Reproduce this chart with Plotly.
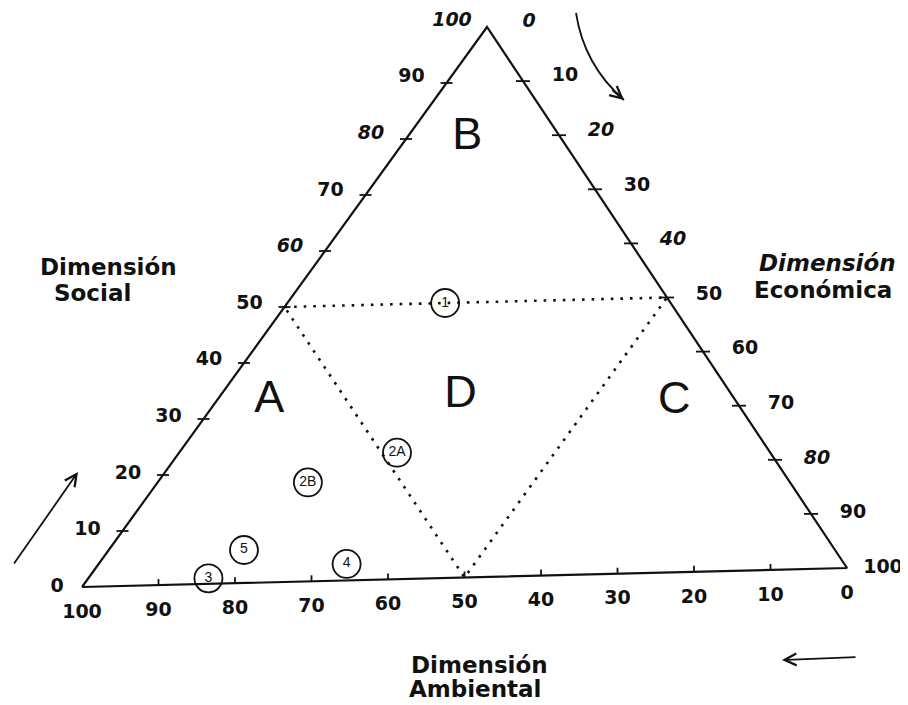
import plotly.graph_objects as go

# ---------------- data ----------------
tick_values = [0, 10, 20, 30, 40, 50, 60, 70, 80, 90, 100]
social_tick_labels = ["0", "10", "20", "30", "40", "50", "60", "70", "80", "90", "100"]
economic_tick_labels = ["0", "10", "20", "30", "40", "50", "60", "70", "80", "90", "100"]
ambiental_tick_labels = ["0", "10", "20", "30", "40", "50", "60", "70", "80", "90", "100"]
social_italic = [False, False, False, False, False, False, True, False, True, False, True]
economic_italic = [True, False, True, False, True, False, False, False, True, False, False]

point_ids = ["1", "2A", "2B", "3", "4", "5"]
point_social = [50, 23, 18, 1, 3, 6]
point_economic = [21, 29, 20, 16, 33, 18]
point_ambiental = [29, 48, 62, 83, 64, 76]

region_names = ["A", "B", "C", "D"]
region_social = [33, 80, 31, 33]
region_economic = [7, 8, 61, 32]
region_ambiental = [60, 12, 8, 35]

# inner (dotted) triangle joining the 50 % points
zone_social = [50, 50, 0, 50]
zone_economic = [0, 50, 50, 0]
zone_ambiental = [50, 0, 50, 50]

# ---------------- geometry (style) ----------------
V_AMB = (82.0, 587.0)    # Ambiental = 100 (bottom left)
V_SOC = (487.0, 27.0)    # Social = 100 (top)
V_ECO = (847.0, 568.0)   # Económica = 100 (bottom right)
PAGE_OFFSET = 8          # default page margin around the figure


def to_xy(s, e, a):
    t = s + e + a
    x = (a * V_AMB[0] + s * V_SOC[0] + e * V_ECO[0]) / t
    y = (a * V_AMB[1] + s * V_SOC[1] + e * V_ECO[1]) / t
    return x, y


def lab(txt, it):
    return "<i>" + txt + "</i>" if it else txt


BLACK = "#111111"
fig = go.Figure()

# triangle outline
edge = [to_xy(0, 0, 100), to_xy(100, 0, 0), to_xy(0, 100, 0), to_xy(0, 0, 100)]
fig.add_trace(go.Scatter(x=[p[0] for p in edge], y=[p[1] for p in edge], mode="lines",
                         line=dict(color=BLACK, width=2.2), hoverinfo="skip"))

# dotted inner triangle
zx, zy = [], []
for s, e, a in zip(zone_social, zone_economic, zone_ambiental):
    x, y = to_xy(s, e, a)
    zx.append(x)
    zy.append(y)
fig.add_trace(go.Scatter(x=zx, y=zy, mode="lines",
                         line=dict(color=BLACK, width=2.6, dash="2.6px,7px"), hoverinfo="skip"))

# tick marks
tx, ty = [], []
for v in tick_values[1:-1]:
    x, y = to_xy(v, 0, 100 - v)          # social (left edge)
    tx += [x - 6, x + 6, None]
    ty += [y, y, None]
    x, y = to_xy(100 - v, v, 0)          # economic (right edge)
    tx += [x - 7, x + 7, None]
    ty += [y, y, None]
    x, y = to_xy(0, 100 - v, v)          # ambiental (bottom edge)
    tx += [x, x, None]
    ty += [y, y - 6, None]
fig.add_trace(go.Scatter(x=tx, y=ty, mode="lines", line=dict(color=BLACK, width=1.8),
                         hoverinfo="skip"))

# tick labels
tick_font = dict(family="DejaVu Sans", size=19, color=BLACK, weight="bold")
lx, ly, lt = [], [], []
for v, t, it in zip(tick_values, social_tick_labels, social_italic):
    x, y = to_xy(v, 0, 100 - v)
    lx.append(x - 35 + (10 if v == 0 else 0))
    ly.append(y - 0.06 * v)
    lt.append(lab(t, it))
for v, t, it in zip(tick_values, economic_tick_labels, economic_italic):
    x, y = to_xy(100 - v, v, 0)
    lx.append(x + (36 if v == 100 else 42))
    ly.append(y - 0.05 * (100 - v))
    lt.append(lab(t, it))
for v, t in zip(tick_values, ambiental_tick_labels):
    x, y = to_xy(0, 100 - v, v)
    lx.append(x)
    ly.append(y + 26)
    lt.append(t)
fig.add_trace(go.Scatter(x=lx, y=ly, mode="text", text=lt, textposition="middle center",
                         textfont=tick_font, cliponaxis=False, hoverinfo="skip"))

# region letters
rx, ry = [], []
for s, e, a in zip(region_social, region_economic, region_ambiental):
    x, y = to_xy(s, e, a)
    rx.append(x)
    ry.append(y)
fig.add_trace(go.Scatter(x=rx, y=ry, mode="text", text=region_names,
                         textposition="middle center",
                         textfont=dict(family="Liberation Sans, Arial", size=45, color=BLACK),
                         cliponaxis=False, hoverinfo="skip"))

# case points
px, py = [], []
for s, e, a in zip(point_social, point_economic, point_ambiental):
    x, y = to_xy(s, e, a)
    px.append(x)
    py.append(y)
fig.add_trace(go.Scatter(x=px, y=py, mode="markers+text", text=point_ids,
                         textposition="middle center",
                         textfont=dict(family="Liberation Sans, Arial", size=14, color=BLACK),
                         marker=dict(symbol="circle-open", size=28, color=BLACK,
                                     line=dict(width=1.8)),
                         cliponaxis=False, hoverinfo="skip"))

# axis titles
title_font = dict(family="DejaVu Sans", size=23, color=BLACK, weight="bold")
titles = [
    ("Dimensión", 108, 267), ("Social", 92, 293),
    ("<i>Dimensión</i>", 827, 263), ("Económica", 823, 290),
    ("Dimensión", 479, 665), ("Ambiental", 475, 689),
]
annotations = [dict(text=t, x=x, y=y, xref="x", yref="y", showarrow=False,
                    xanchor="center", yanchor="middle", font=title_font)
               for t, x, y in titles]

# direction arrows
arrow_style = dict(text="", showarrow=True, arrowhead=5, arrowsize=1.3, arrowwidth=1.8,
                   arrowcolor=BLACK, xref="x", yref="y", axref="x", ayref="y")
annotations.append(dict(x=78, y=472, ax=13, ay=565, **arrow_style))
annotations.append(dict(x=782, y=660, ax=857, ay=657, **arrow_style))
annotations.append(dict(x=624, y=100, ax=611, ay=89, **arrow_style))

shapes = [dict(type="path", path="M 576,13 Q 584,65 624,100", xref="x", yref="y",
               line=dict(color=BLACK, width=1.8))]

fig.update_layout(
    width=908 - PAGE_OFFSET, height=705 - PAGE_OFFSET,
    margin=dict(l=0, r=0, t=0, b=0),
    paper_bgcolor="white", plot_bgcolor="white",
    showlegend=False,
    xaxis=dict(range=[PAGE_OFFSET, 908], visible=False, fixedrange=True),
    yaxis=dict(range=[705, PAGE_OFFSET], visible=False, fixedrange=True),
    annotations=annotations,
    shapes=shapes,
)

fig.write_html("out.html")
